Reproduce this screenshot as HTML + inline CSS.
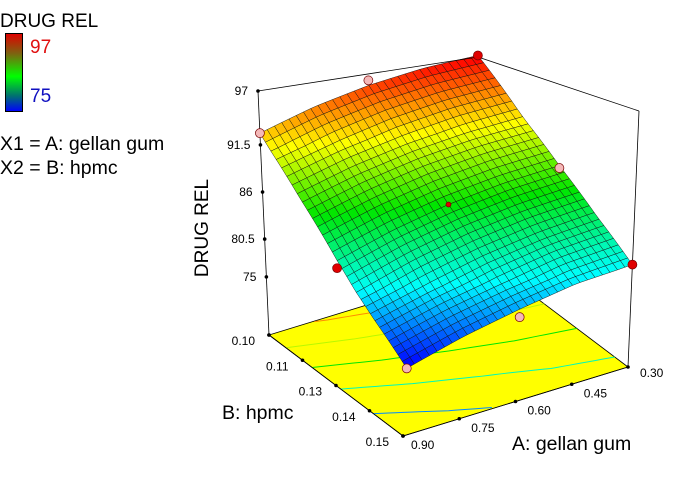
<!DOCTYPE html>
<html><head><meta charset="utf-8"><style>
body{margin:0;background:#fff;width:680px;height:473px;overflow:hidden;font-family:"Liberation Sans",sans-serif}
</style></head><body>
<svg id="c" width="680" height="473" viewBox="0 0 680 473" xmlns="http://www.w3.org/2000/svg" font-family="Liberation Sans, sans-serif">
<defs><linearGradient id="cb" x1="0" y1="0" x2="0" y2="1">
<stop offset="0" stop-color="#e00000"/><stop offset="0.25" stop-color="#806010"/><stop offset="0.55" stop-color="#00ff00"/><stop offset="0.8" stop-color="#007070"/><stop offset="1" stop-color="#0000ff"/></linearGradient></defs>
<g>
<text x="0" y="27" font-size="19">DRUG REL</text>
<rect x="5.5" y="33.5" width="17" height="78" fill="url(#cb)" stroke="#000"/>
<text x="30" y="53" font-size="19" fill="#e01010">97</text>
<text x="30" y="102" font-size="19" fill="#1010c0">75</text>
<text x="0" y="150" font-size="19.5">X1 = A: gellan gum</text>
<text x="0" y="174" font-size="19.5">X2 = B: hpmc</text>
</g>
<text transform="translate(208,228) rotate(-90)" text-anchor="middle" font-size="19">DRUG REL</text>
<text x="222" y="419" font-size="19.5">B: hpmc</text>
<text x="512" y="450" font-size="19.5">A: gellan gum</text>
<g id="g"></g>
</svg>
<script>
// data
const aLevels=[-1,-0.5,0,0.5,1]; // coded A: -1=0.30, 1=0.90
const bLevels=[-1,-0.5,0,0.5,1]; // coded B: -1=0.10, 1=0.15
const zRowBm1=[97.2,96.68,95.75,94.43,92.7];
const zRowBm05=[92.21,91.60,90.59,89.18,87.37];
const zRowB0=[87.8,87.1,86.0,84.5,82.6];
const zRowB05=[83.97,83.18,81.99,80.40,78.42];
const zRowB1=[80.7,80.03,78.55,76.88,74.8];
const zTicks=["75","80.5","86","91.5","97"];
const zTickVals=[75,80.5,86,91.5,97];
const bTickLabels=["0.10","0.11","0.13","0.14","0.15"];
const aTickLabels=["0.90","0.75","0.60","0.45","0.30"];
const ptA=[-1,0,1,1,-1,0,1,-1,0];
const ptB=[-1,-1,-1,0,1,1,1,0,0];
const ptZ=[97.2,96.3,92.7,81.8,80.7,77.5,74.8,87.5,86];
const ptAbove=[1,0,0,1,1,0,0,0,1];
const contourLevels=[94,90,86,82,78];

const grid=[zRowBm1,zRowBm05,zRowB0,zRowB05,zRowB1];
const NS="http://www.w3.org/2000/svg";
const g=document.getElementById('g');
const BL=[[269,335],[403,436],[628,367],[494,266]];
const TL=[[258,91],[419,145],[639,111],[478,57]];
function quad(Q,a,b){const u=(1-a)/2,v=(b+1)/2;
 return [0,1].map(i=>(1-u)*(1-v)*Q[0][i]+(1-u)*v*Q[1][i]+u*v*Q[2][i]+u*(1-v)*Q[3][i]);}
function zt(z){const zs=[66.6,75,80.5,86,91.5,97,100],ts=[0,.238,.393,.586,.779,1,1.11];
 for(let i=0;i<zs.length-1;i++){if(z<=zs[i+1]||i==zs.length-2){return ts[i]+(z-zs[i])/(zs[i+1]-zs[i])*(ts[i+1]-ts[i]);}}}
function P(a,b,z){const p=quad(BL,a,b),q=quad(TL,a,b),t=zt(z);return [p[0]+(q[0]-p[0])*t,p[1]+(q[1]-p[1])*t];}
function zAt(a,b){
 let i=Math.max(0,Math.min(3,Math.floor((b+1)/0.5))),j=Math.max(0,Math.min(3,Math.floor((a+1)/0.5)));
 const fb=(b-bLevels[i])/0.5,fa=(a-aLevels[j])/0.5;
 return grid[i][j]*(1-fa)*(1-fb)+grid[i][j+1]*fa*(1-fb)+grid[i+1][j]*(1-fa)*fb+grid[i+1][j+1]*fa*fb;}
function col(z){let t=(z-75)/(97-75);t=Math.max(0,Math.min(1,t));
 const st=[[0,0,0,255],[.25,0,255,255],[.5,0,230,0],[.75,255,255,0],[1,255,0,0]];
 for(let k=0;k<4;k++){if(t<=st[k+1][0]){const f=(t-st[k][0])/(st[k+1][0]-st[k][0]);
 return `rgb(${[1,2,3].map(c=>Math.round(st[k][c]+(st[k+1][c]-st[k][c])*f)).join(',')})`;}}return 'rgb(255,0,0)';}
function el(tag,attrs){const e=document.createElementNS(NS,tag);for(const k in attrs)e.setAttribute(k,attrs[k]);g.appendChild(e);return e;}
function line(p,q,name){const e=el('line',{x1:p[0],y1:p[1],x2:q[0],y2:q[1],stroke:'#000','stroke-width':0.8});
 
 }
const zMin=66.6,zMax=97;
line(P(-1,-1,zMin),P(-1,-1,zMax),'back-vertical-edge');
const fl=el('polygon',{points:[P(1,-1,zMin),P(1,1,zMin),P(-1,1,zMin),P(-1,-1,zMin)].map(p=>p.join(',')).join(' '),fill:'#ffff00',stroke:'#000','stroke-width':0.8});


contourLevels.forEach(L=>{let pts=[];
 for(let a=-1;a<=1.0001;a+=0.05){for(let b=-1;b<1;b+=0.01){const z1=zAt(a,b),z2=zAt(a,Math.min(1,b+0.01));
  if((z1-L)*(z2-L)<=0&&z1!=z2){const bb=b+0.01*(z1-L)/(z1-z2);pts.push(P(a,bb,zMin));break;}}}
 if(pts.length>1){const e=el('polyline',{points:pts.map(p=>p.join(',')).join(' '),fill:'none',stroke:col(L),'stroke-width':1});
 
 }});
const N=30;const cells=[];
for(let i=0;i<N;i++)for(let j=0;j<N;j++){const A0=-1+2*j/N,A1=-1+2*(j+1)/N,B0=-1+2*i/N,B1=-1+2*(i+1)/N;cells.push([A0,A1,B0,B1]);}
cells.sort((p,q)=>(p[0]+p[2])-(q[0]+q[2]));
cells.forEach(c=>{const [A0,A1,B0,B1]=c;const cs=[[A0,B0],[A1,B0],[A1,B1],[A0,B1]];
 const zs=cs.map(p=>zAt(p[0],p[1]));const zm=zs.reduce((s,v)=>s+v)/4;
 const e=el('polygon',{points:cs.map((p,k)=>P(p[0],p[1],zs[k]).join(',')).join(' '),fill:col(zm),stroke:'#111','stroke-width':0.45});
 
 });
line(P(1,-1,zMin),P(1,-1,zMax),'left-vertical-axis');
line(P(-1,1,zMin),P(-1,1,zMax),'right-vertical-edge');
line(P(1,-1,zMax),P(-1,-1,zMax),'top-back-edge-left');
line(P(-1,-1,zMax),P(-1,1,zMax),'top-back-edge-right');
line(P(1,-1,zMin),P(1,1,zMin),'b-axis-line');
line(P(1,1,zMin),P(-1,1,zMin),'a-axis-line');
function dot(p,name){const e=el('circle',{cx:p[0],cy:p[1],r:1.8,fill:'#000'});
 
 }
function txt(p,s,anchor,name){const e=el('text',{x:p[0],y:p[1],'font-size':12,'text-anchor':anchor});e.textContent=s;
 
 }
zTickVals.forEach((v,k)=>{const p=P(1,-1,v);dot(p,'z-tick');txt([p[0]-10,p[1]+4],zTicks[k],'end','z-tick-label');});
dot(P(1,-1,zMin),'z-tick');
bTickLabels.forEach((s,k)=>{const b=-1+k*0.5;const p=P(1,b,zMin);dot(p,'b-tick');txt([p[0]-14,p[1]+10],s,'end','b-tick-label');});
aTickLabels.forEach((s,k)=>{const a=1-k*0.5;const p=P(a,1,zMin);dot(p,'a-tick');txt([p[0]+(k==0?8:12),p[1]+(k==4?10:13)],s,'start','a-tick-label');});
ptZ.forEach((z,k)=>{const p=P(ptA[k],ptB[k],z);const small=(k==8);
 const e=el('circle',{cx:p[0],cy:p[1],r:small?2.5:4.5,fill:ptAbove[k]?'#e00000':'#f4b8b8',stroke:'#700','stroke-width':0.7});
 
 });
</script>
</body></html>
